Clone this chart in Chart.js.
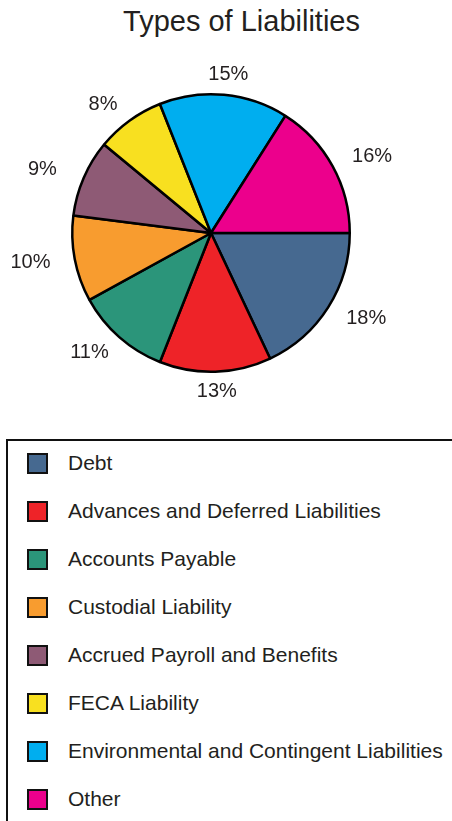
<!DOCTYPE html>
<html>
<head>
<meta charset="utf-8">
<title>Types of Liabilities</title>
<script src="https://cdn.jsdelivr.net/npm/chart.js@4/dist/chart.umd.min.js"></script>
<style>
  html, body { margin: 0; padding: 0; background: #ffffff; }
  body { width: 452px; height: 821px; position: relative; overflow: hidden;
         font-family: "Liberation Sans", Arial, sans-serif; color: #231f20; }
  #title { position: absolute; left: 0; width: 483px; top: 4px; text-align: center;
           font-size: 29px; line-height: 34px; }
  #pieWrap { position: absolute; left: 0; top: 0; width: 452px; height: 430px; }
  #legend { position: absolute; left: 6px; top: 439px; width: 460px; height: 400px;
            border: 2px solid #111; box-sizing: border-box; }
  .row { position: absolute; left: 0; height: 24px; display: flex; align-items: center; }
  .swatch { position: absolute; left: 19px; width: 21px; height: 21px; box-sizing: border-box;
            border: 2px solid #111; }
  .label { position: absolute; left: 60px; font-size: 21px; white-space: nowrap; line-height: 24px; }
</style>
</head>
<body>
<div id="title">Types of Liabilities</div>
<div id="pieWrap"><canvas id="pie" width="452" height="430"></canvas></div>
<div id="legend"></div>
<script>
const categories = [
  'Debt',
  'Advances and Deferred Liabilities',
  'Accounts Payable',
  'Custodial Liability',
  'Accrued Payroll and Benefits',
  'FECA Liability',
  'Environmental and Contingent Liabilities',
  'Other'
];
const shares = [18, 13, 11, 10, 9, 8, 15, 16];
const sliceColors = ['#466990', '#ee2328', '#2b957a', '#f89c2f', '#8e5a75', '#f8e020', '#00aeef', '#ec008c'];

// Percentage labels placed on an ellipse around each slice
const sliceLabels = {
  id: 'sliceLabels',
  afterDatasetsDraw(chart) {
    const ctx = chart.ctx;
    const meta = chart.getDatasetMeta(0);
    ctx.save();
    ctx.font = '20px "Liberation Sans", Arial, sans-serif';
    ctx.fillStyle = '#231f20';
    ctx.textAlign = 'center';
    ctx.textBaseline = 'middle';
    meta.data.forEach((arc, i) => {
      const p = arc.getProps(['x', 'y', 'startAngle', 'endAngle', 'outerRadius'], true);
      const mid = (p.startAngle + p.endAngle) / 2;
      const lx = p.x + (p.outerRadius + 45) * Math.cos(mid);
      const ly = p.y + (p.outerRadius + 20) * Math.sin(mid);
      ctx.fillText(chart.data.datasets[0].data[i] + '%', lx, ly);
    });
    ctx.restore();
  }
};

const chart = new Chart(document.getElementById('pie'), {
  type: 'pie',
  data: {
    labels: categories,
    datasets: [{
      data: shares,
      backgroundColor: sliceColors,
      borderColor: '#000000',
      borderWidth: 2.5
    }]
  },
  options: {
    responsive: false,
    animation: false,
    rotation: 90,
    layout: { padding: { left: 71, right: 101, top: 93, bottom: 57 } },
    plugins: {
      legend: { display: false },
      tooltip: { enabled: false },
      title: { display: false }
    }
  },
  plugins: [sliceLabels]
});

// Legend list built from the chart's own labels and colours
const legendEl = document.getElementById('legend');
chart.data.labels.forEach((name, i) => {
  const rowTop = 12 + i * 48;
  const sw = document.createElement('div');
  sw.className = 'swatch';
  sw.style.top = rowTop + 'px';
  sw.style.background = chart.data.datasets[0].backgroundColor[i];
  const lb = document.createElement('div');
  lb.className = 'label';
  lb.style.top = (rowTop - 2) + 'px';
  lb.textContent = name;
  legendEl.appendChild(sw);
  legendEl.appendChild(lb);
});
</script>
</body>
</html>
